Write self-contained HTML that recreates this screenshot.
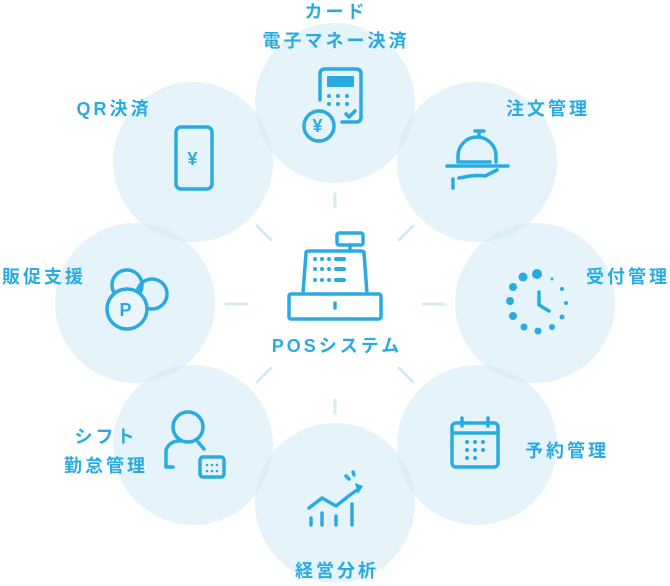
<!DOCTYPE html>
<html><head><meta charset="utf-8"><style>
html,body{margin:0;padding:0;background:#fff;}
svg{display:block}
text{font-family:"Liberation Sans","Noto Sans CJK JP",sans-serif;font-weight:bold;fill:#29abe2;font-size:18px;letter-spacing:3px}
</style></head><body>
<svg width="670" height="586" viewBox="0 0 670 586" xmlns="http://www.w3.org/2000/svg">
<g fill="#cfe9f7" fill-opacity="0.55">
<circle cx="335" cy="103" r="80"/>
<circle cx="477" cy="162" r="80"/>
<circle cx="535" cy="303" r="80"/>
<circle cx="477" cy="445" r="80"/>
<circle cx="335" cy="503" r="80"/>
<circle cx="193" cy="445" r="80"/>
<circle cx="135" cy="303" r="80"/>
<circle cx="193" cy="162" r="80"/>
</g>
<g stroke="#d4ebf3" stroke-width="3" stroke-linecap="round">
<line x1="335" y1="194" x2="335" y2="207"/>
<line x1="335" y1="400" x2="335" y2="413"/>
<line x1="226" y1="304" x2="247" y2="304"/>
<line x1="423" y1="304" x2="444" y2="304"/>
<line x1="257" y1="226" x2="271" y2="240"/>
<line x1="413" y1="226" x2="399" y2="240"/>
<line x1="257" y1="382" x2="271" y2="368"/>
<line x1="413" y1="382" x2="399" y2="368"/>
</g>
<g fill="none" stroke="#29abe2" stroke-width="3.5" stroke-linecap="round" stroke-linejoin="round">
<rect x="337" y="233" width="26" height="12" rx="2"/>
<line x1="350" y1="245" x2="350" y2="251"/>
<path d="M303 293 L306 253 Q306 251 309 251 L361 251 Q364 251 364 253 L367 293"/>
<rect x="289" y="294" width="92" height="25" rx="2"/>
<line x1="335" y1="303" x2="335" y2="308"/>
<path d="M320 100 L320 74 Q320 69 325 69 L356 69 Q361 69 361 74 L361 117 Q361 122 356 122 L342 122"/>
<path d="M346 114 L349 117 L355 111"/>
<circle cx="319" cy="126" r="15"/>
<rect x="176" y="127" width="36" height="62" rx="5"/>
<path d="M458 162 L458 156 A19 19 0 0 1 496 156 L496 162"/>
<path d="M475 131 L484 131 M479 131 L479 137"/>
<path d="M460 162 L490 162 M447 166 L508 166"/>
<path d="M453 179 L453 188 M459 178 L470 176 Q480 175 485 176 L497 170" />
<path d="M539 292 L539 305 L549 311"/>
<rect x="452" y="423" width="46" height="44" rx="4"/>
<line x1="452" y1="433" x2="498" y2="433"/>
<line x1="462" y1="418" x2="462" y2="426"/><line x1="488" y1="418" x2="488" y2="426"/>
<circle cx="188" cy="427" r="15"/>
<path d="M173 467 L166 467 L166 450 Q170 440 182 441"/>
<path d="M198 442 L204 449"/>
<rect x="200" y="457" width="24" height="20" rx="3"/>
<circle cx="127" cy="285" r="15"/>
<circle cx="152" cy="294" r="15"/>
<circle cx="127" cy="309" r="20" fill="#eaf6fc"/>
<path d="M309 508 L322 498 L336 506 L350 495 L357 490"/>
<path d="M311 518 L311 525 M322 513 L322 525 M336 516 L336 525 M352 504 L352 525"/>
<path d="M346 476 L349 479 M353 472 L354 475"/>
</g>
<g fill="#29abe2">
<rect x="327" y="76" width="27" height="11" rx="1"/>
<circle cx="329" cy="96" r="2"/><circle cx="338" cy="96" r="2"/><circle cx="347" cy="96" r="2"/>
<circle cx="329" cy="104" r="2"/><circle cx="338" cy="104" r="2"/><circle cx="347" cy="104" r="2"/>
<circle cx="315" cy="259" r="2"/><circle cx="322" cy="259" r="2"/><circle cx="329" cy="259" r="2"/><rect x="334" y="257" width="12" height="4" rx="2"/>
<circle cx="315" cy="269" r="2"/><circle cx="322" cy="269" r="2"/><circle cx="329" cy="269" r="2"/><rect x="334" y="267" width="12" height="4" rx="2"/>
<circle cx="315" cy="280" r="2"/><circle cx="322" cy="280" r="2"/><circle cx="329" cy="280" r="2"/><rect x="334" y="278" width="12" height="4" rx="2"/>
<polygon points="355,483 363,486 358,494"/>
<circle cx="523" cy="277" r="4.5"/><circle cx="537" cy="274" r="5"/><circle cx="513" cy="287" r="4"/><circle cx="510" cy="301" r="4"/><circle cx="513" cy="316" r="4"/><circle cx="524" cy="327" r="3.5"/><circle cx="538" cy="331" r="3.5"/><circle cx="552" cy="327" r="3"/><circle cx="562" cy="317" r="2.5"/><circle cx="566" cy="303" r="2"/><circle cx="562" cy="289" r="2"/><circle cx="552" cy="279" r="1.5"/>
<g><circle cx="467" cy="442" r="2"/><circle cx="475" cy="442" r="2"/><circle cx="483" cy="442" r="2"/><circle cx="467" cy="450" r="2"/><circle cx="475" cy="450" r="2"/><circle cx="483" cy="450" r="2"/><circle cx="467" cy="458" r="2"/><circle cx="475" cy="458" r="2"/></g>
<g><circle cx="207" cy="465" r="1.3"/><circle cx="212" cy="465" r="1.3"/><circle cx="217" cy="465" r="1.3"/><circle cx="207" cy="471" r="1.3"/><circle cx="212" cy="471" r="1.3"/><circle cx="217" cy="471" r="1.3"/></g>
</g>
<text x="319" y="132" font-size="16" text-anchor="middle" letter-spacing="0">¥</text>
<text x="194" y="165" font-size="18" text-anchor="middle" letter-spacing="0">¥</text>
<text x="127" y="316" font-size="19" text-anchor="middle" letter-spacing="0">P</text>
<text x="336" y="18" text-anchor="middle">カード</text>
<text x="336" y="47" text-anchor="middle">電子マネー決済</text>
<text x="114" y="115" text-anchor="middle">QR決済</text>
<text x="548" y="115" text-anchor="middle">注文管理</text>
<text x="628" y="283" text-anchor="middle">受付管理</text>
<text x="44" y="283" text-anchor="middle">販促支援</text>
<text x="337" y="352" text-anchor="middle" letter-spacing="1.5">POSシステム</text>
<text x="106" y="443" text-anchor="middle">シフト</text>
<text x="106" y="472" text-anchor="middle">勤怠管理</text>
<text x="567" y="457" text-anchor="middle">予約管理</text>
<text x="337" y="577" text-anchor="middle">経営分析</text>
</svg>
</body></html>
